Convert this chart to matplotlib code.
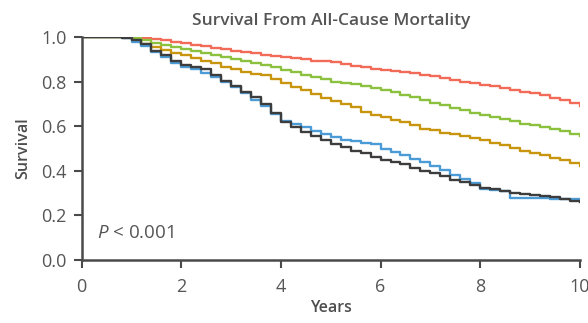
import matplotlib.pyplot as plt

# follow-up times (years) where the curves are read
years = [0.0, 0.2, 0.4, 0.6, 0.8, 1.0, 1.2, 1.4, 1.6, 1.8,
         2.0, 2.2, 2.4, 2.6, 2.8, 3.0, 3.2, 3.4, 3.6, 3.8,
         4.0, 4.2, 4.4, 4.6, 4.8, 5.0, 5.2, 5.4, 5.6, 5.8,
         6.0, 6.2, 6.4, 6.6, 6.8, 7.0, 7.2, 7.4, 7.6, 7.8,
         8.0, 8.2, 8.4, 8.6, 8.8, 9.0, 9.2, 9.4, 9.6, 9.8, 10.0]

red = [1.0, 1.0, 1.0, 1.0, 1.0, 0.998, 0.995, 0.99, 0.985, 0.978,
       0.972, 0.966, 0.96, 0.953, 0.946, 0.94, 0.934, 0.928, 0.922, 0.916,
       0.91, 0.905, 0.9, 0.895, 0.891, 0.887, 0.88, 0.872, 0.866, 0.858,
       0.852, 0.848, 0.843, 0.837, 0.83, 0.824, 0.817, 0.807, 0.8, 0.793,
       0.787, 0.779, 0.772, 0.764, 0.755, 0.748, 0.74, 0.728, 0.718, 0.706, 0.69]

green = [1.0, 1.0, 1.0, 1.0, 1.0, 0.995, 0.986, 0.975, 0.965, 0.955,
         0.945, 0.938, 0.93, 0.92, 0.91, 0.9, 0.893, 0.885, 0.877, 0.865,
         0.853, 0.843, 0.832, 0.82, 0.81, 0.8, 0.795, 0.789, 0.782, 0.77,
         0.762, 0.752, 0.742, 0.73, 0.718, 0.706, 0.695, 0.683, 0.673, 0.66,
         0.65, 0.64, 0.632, 0.622, 0.612, 0.604, 0.597, 0.59, 0.577, 0.565, 0.557]

gold = [1.0, 1.0, 1.0, 1.0, 1.0, 0.985, 0.97, 0.955, 0.942, 0.93,
        0.918, 0.905, 0.895, 0.882, 0.868, 0.855, 0.845, 0.836, 0.83, 0.812,
        0.795, 0.776, 0.762, 0.745, 0.728, 0.715, 0.7, 0.685, 0.665, 0.652,
        0.64, 0.63, 0.618, 0.605, 0.59, 0.582, 0.572, 0.565, 0.557, 0.548,
        0.538, 0.526, 0.514, 0.502, 0.49, 0.48, 0.47, 0.458, 0.447, 0.435, 0.422]

blue = [1.0, 1.0, 1.0, 1.0, 0.995, 0.98, 0.96, 0.935, 0.91, 0.885,
        0.865, 0.855, 0.84, 0.82, 0.8, 0.775, 0.75, 0.72, 0.69, 0.655,
        0.625, 0.61, 0.595, 0.58, 0.565, 0.55, 0.54, 0.535, 0.525, 0.52,
        0.5, 0.485, 0.47, 0.452, 0.44, 0.42, 0.405, 0.38, 0.365, 0.345,
        0.32, 0.315, 0.31, 0.28, 0.278, 0.278, 0.277, 0.276, 0.275, 0.272, 0.27]

black = [1.0, 1.0, 1.0, 1.0, 0.995, 0.985, 0.97, 0.94, 0.92, 0.895,
         0.875, 0.868, 0.855, 0.83, 0.805, 0.78, 0.755, 0.73, 0.7, 0.66,
         0.62, 0.595, 0.575, 0.558, 0.54, 0.52, 0.505, 0.49, 0.478, 0.462,
         0.45, 0.44, 0.43, 0.415, 0.398, 0.39, 0.375, 0.36, 0.348, 0.338,
         0.325, 0.318, 0.308, 0.3, 0.298, 0.29, 0.285, 0.282, 0.275, 0.265, 0.262]

curves = [(red, "#F26A58"), (green, "#8CC13F"), (gold, "#C8960E"),
          (blue, "#4B9CD6"), (black, "#3D3D3D")]

plt.rcParams['font.family'] = ['Open Sans', 'DejaVu Sans']
plt.rcParams['mathtext.fontset'] = 'custom'
plt.rcParams['mathtext.it'] = 'Open Sans:italic'
plt.rcParams['mathtext.rm'] = 'Open Sans'
grey = "#4a4a4a"

fig = plt.figure(figsize=(5.88, 3.23), dpi=100)
ax = fig.add_axes([0.139, 0.195, 0.847, 0.69])

for vals, col in curves:
    ax.step(years, vals, where="post", color=col, linewidth=1.7)

ax.set_xlim(0, 10)
ax.set_ylim(0, 1.0)
ax.set_xticks([0, 2, 4, 6, 8, 10])
ax.set_yticks([0.0, 0.2, 0.4, 0.6, 0.8, 1.0])
ax.set_yticklabels(["0.0", "0.2", "0.4", "0.6", "0.8", "1.0"])

for s in ["top", "right"]:
    ax.spines[s].set_visible(False)
for s in ["left", "bottom"]:
    ax.spines[s].set_color(grey)
    ax.spines[s].set_linewidth(1.8)

ax.tick_params(axis="both", colors=grey, labelcolor="#555555", labelsize=13,
               length=6, width=1.5, direction="out")
ax.tick_params(axis="x", pad=7)
ax.tick_params(axis="y", pad=5)

ax.set_xlabel("Years", fontsize=11.5, fontweight="semibold", color="#4d4d4d", labelpad=3)
ax.set_ylabel("Survival", fontsize=11.5, fontweight="semibold", color="#4d4d4d", labelpad=7)
ax.set_title("Survival From All-Cause Mortality", fontsize=12.5, fontweight="semibold",
             color="#555555", pad=9)

ax.text(0.3, 0.12, r"$\it{P}$ < 0.001", fontsize=13.5, color="#555555", va="center")

plt.savefig("out.png", dpi=100)
